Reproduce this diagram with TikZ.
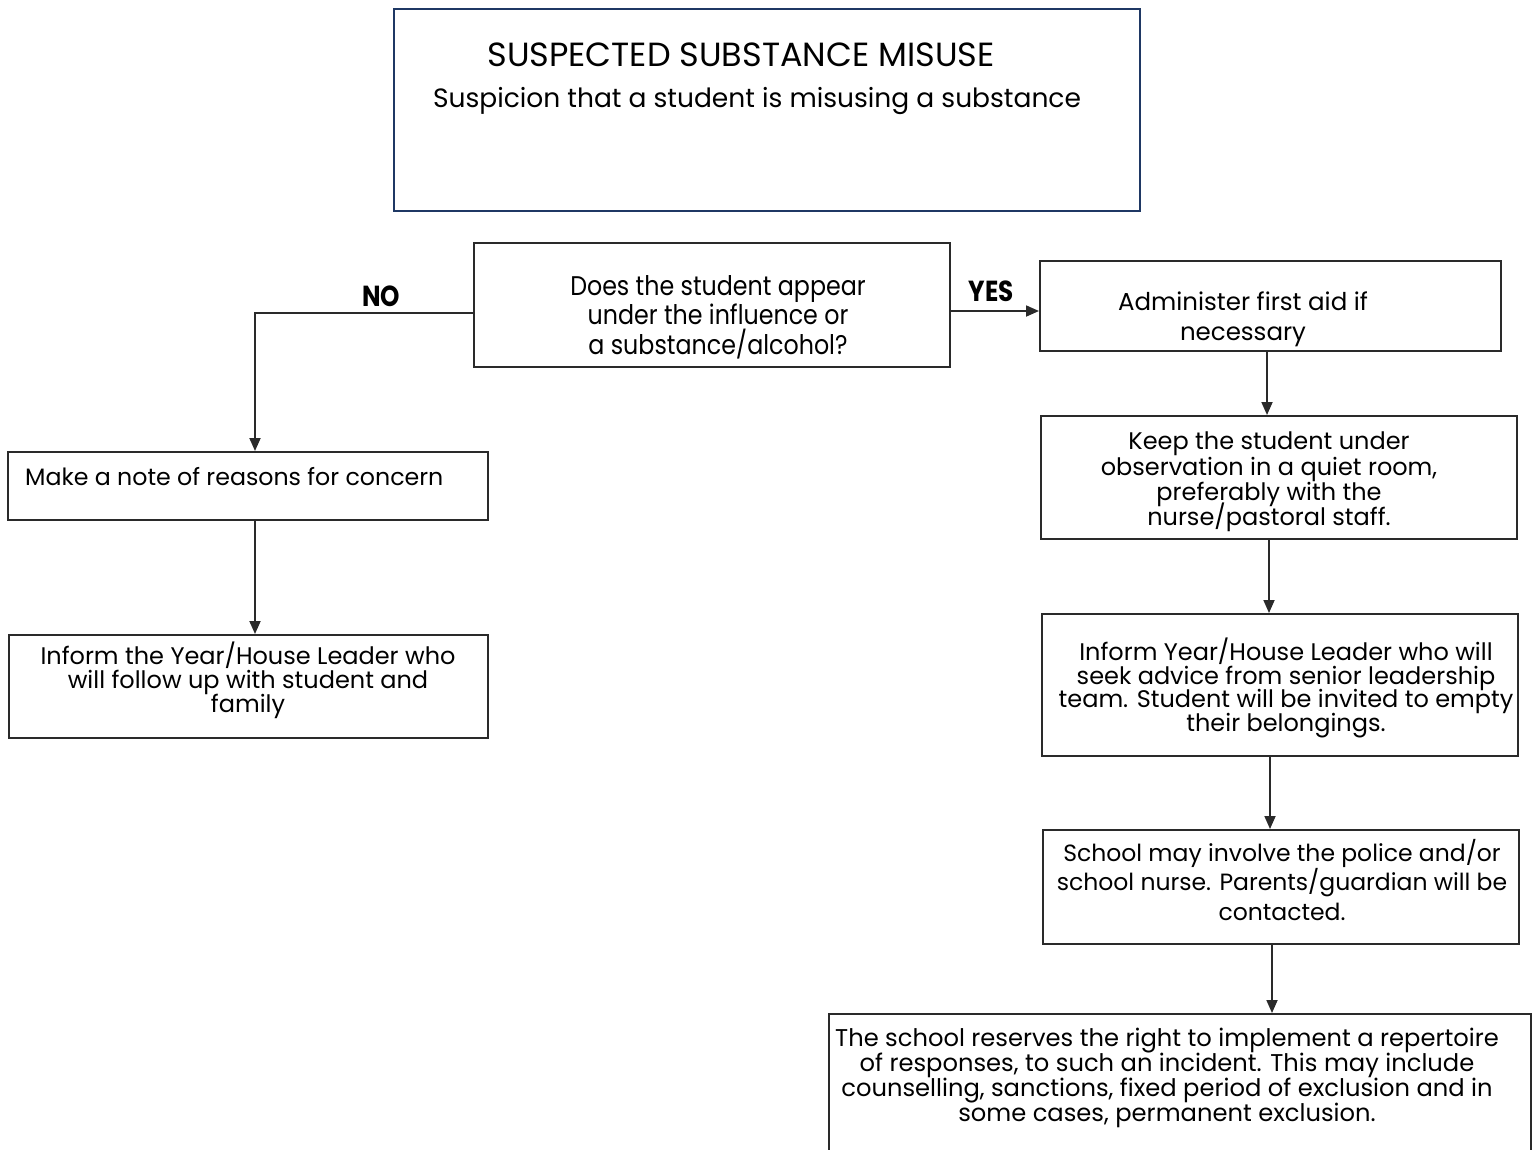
\documentclass[tikz,border=0pt]{standalone}
\usepackage{fontspec}
\setmainfont{Poppins}
\newfontfamily\condfont[FakeStretch=0.88]{Poppins}
\newfontfamily\labfont[FakeStretch=0.85]{Poppins}
\usetikzlibrary{arrows.meta,calc}
\definecolor{navy}{HTML}{1F3864}
\definecolor{boxline}{HTML}{2A2A2A}
\newcommand{\tight}{\lineskiplimit=-50pt\lineskip=0pt}
\begin{document}
\begin{tikzpicture}[x=1pt,y=-1pt,
  box/.style={draw=boxline,line width=2pt,inner sep=0pt,anchor=north west},
  txt/.style={inner sep=0pt,align=center},
  arr/.style={draw=boxline,line width=1.8pt,-{Triangle[length=13pt,width=11pt]}},
  lab/.style={inner sep=0pt,font=\labfont\fontsize{29}{30}\selectfont\bfseries}]
\useasboundingbox (0,0) rectangle (1539,1149);
\clip (0,0) rectangle (1539,1149);
\fill[white] (0,0) rectangle (1539,1149);
% boxes
\node[box,draw=navy,line width=2.2pt,minimum width=746pt,minimum height=202pt] (top) at (393,8) {};
\node[box,minimum width=476pt,minimum height=124pt] (q) at (473,242) {};
\node[box,minimum width=461pt,minimum height=90pt] (adm) at (1039,260) {};
\node[box,minimum width=476pt,minimum height=123pt] (keep) at (1040,415) {};
\node[box,minimum width=476pt,minimum height=142pt] (inf) at (1041,613) {};
\node[box,minimum width=476pt,minimum height=114pt] (sch) at (1042,829) {};
\node[box,minimum width=702pt,minimum height=200pt] (fin) at (828,1013) {};
\node[box,minimum width=480pt,minimum height=68pt] (note) at (7,451) {};
\node[box,minimum width=479pt,minimum height=103pt] (infl) at (8,634) {};
% texts
\node[txt,font=\fontsize{33.5}{34}\selectfont] (ttl) at (741,55) {SUSPECTED SUBSTANCE MISUSE};
\node[txt,font=\fontsize{26.5}{28}\selectfont] (sub) at (757,101) {Suspicion that a student is misusing a substance};
\node[txt,font=\condfont\fontsize{27}{29.5}\selectfont\tight] (qt) at (718,317) {Does the student appear\\under the influence or\\a substance/alcohol?};
\node[txt,font=\fontsize{24.5}{30}\selectfont\tight] (admt) at (1243,319) {Administer first aid if\\necessary};
\node[txt,font=\fontsize{24}{25.3}\selectfont\tight] (keept) at (1269,482) {Keep the student under\\observation in a quiet room,\\preferably with the\\nurse/pastoral staff.};
\node[txt,font=\fontsize{24}{23.7}\selectfont\tight] (inft) at (1286,688) {Inform Year/House Leader who will\\seek advice from senior leadership\\team. Student will be invited to empty\\their belongings.};
\node[txt,font=\fontsize{23.5}{29.5}\selectfont\tight] (scht) at (1282,880) {School may involve the police and/or\\school nurse. Parents/guardian will be\\contacted.};
\node[txt,font=\fontsize{24.2}{25}\selectfont\tight] (fint) at (1167,1078) {The school reserves the right to implement a repertoire\\of responses, to such an incident. This may include\\counselling, sanctions, fixed period of exclusion and in\\some cases, permanent exclusion.};
\node[txt,anchor=west,font=\fontsize{23.7}{24}\selectfont] (notet) at (25,477) {Make a note of reasons for concern};
\node[txt,font=\fontsize{24}{24}\selectfont\tight] (inflt) at (248,680) {Inform the Year/House Leader who\\will follow up with student and\\family};
% labels
\node[lab] (no) at (381,296) {NO};
\node[lab] (yes) at (991,291) {YES};
% connectors
\draw[arr] (q.west |- 0,313) -- (255,313) -- (note.north -| 255,0);
\draw[arr] (q.east |- 0,311) -- (adm.west |- 0,311);
\draw[arr] (adm.south -| 1267,0) -- (keep.north -| 1267,0);
\draw[arr] (keep.south -| 1269,0) -- (inf.north -| 1269,0);
\draw[arr] (inf.south -| 1270,0) -- (sch.north -| 1270,0);
\draw[arr] (sch.south -| 1272,0) -- (fin.north -| 1272,0);
\draw[arr] (note.south -| 255,0) -- (infl.north -| 255,0);
\end{tikzpicture}
\end{document}
